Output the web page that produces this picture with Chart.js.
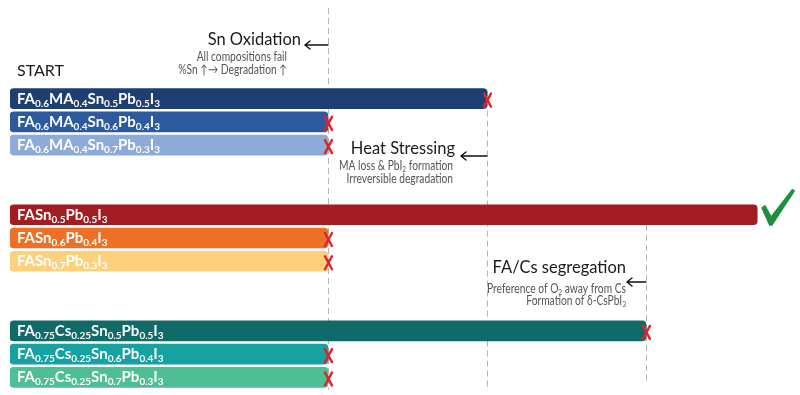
<!DOCTYPE html>
<html><head><meta charset="utf-8">
<script src="https://cdn.jsdelivr.net/npm/chart.js@4.4.0/dist/chart.umd.min.js"></script>
<style>html,body{margin:0;padding:0;background:#fff}#wrap{width:800px;height:395px;position:relative}</style>
</head><body><div id="wrap"><canvas id="c"></canvas></div>
<script>
// ---- data ----
const compositions = ['FA0.6MA0.4Sn0.5Pb0.5I3','FA0.6MA0.4Sn0.6Pb0.4I3','FA0.6MA0.4Sn0.7Pb0.3I3',
  'FASn0.5Pb0.5I3','FASn0.6Pb0.4I3','FASn0.7Pb0.3I3',
  'FA0.75Cs0.25Sn0.5Pb0.5I3','FA0.75Cs0.25Sn0.6Pb0.4I3','FA0.75Cs0.25Sn0.7Pb0.3I3'];
const groupOf = [0,0,0,1,1,1,2,2,2];
const stageReached = [3,2,2,4.7,2,2,4,2,2];
const outcome = ['fail','fail','fail','pass','fail','fail','fail','fail','fail'];
const barColors = ['#1f3e72','#2c5a9d','#8eaad9','#a21c22','#ee7024','#fdd17c','#0f6a68','#15a2a0','#4ebf95'];
const stageBounds = [2,3,4];
const stageTitles = ['Sn Oxidation','Heat Stressing','FA/Cs segregation'];
const stageNotes = [['All compositions fail','%Sn \u2191\u2192 Degradation \u2191'],
  ['MA loss & PbI_2 formation','Irreversible degradation'],
  ['Preference of O_2 away from Cs','Formation of \u03b4-CsPbI_3']];
const startLabel = 'START';

// ---- rows (with spacer rows between groups) ----
const rows = [];
compositions.forEach((c,i)=>{ if(i>0 && groupOf[i]!==groupOf[i-1]) rows.push(null,null); rows.push(i); });
const labels = rows.map(r=> r===null ? '' : compositions[r]);
const values = rows.map(r=> r===null ? null : stageReached[r]);
const colors = rows.map(r=> r===null ? 'rgba(0,0,0,0)' : barColors[r]);

function drawRich(ctx, parts, x, y, mainFont, subFont, subDy, align, sx){
  sx = sx || 1;
  let w = 0;
  parts.forEach((p,i)=>{ ctx.font = (i%2) ? subFont : mainFont; w += ctx.measureText(p).width; });
  const tw = w*sx;
  const x0 = align==='right' ? x - tw : (align==='center' ? x - tw/2 : x);
  ctx.save();
  ctx.translate(x0, y); ctx.scale(sx,1);
  ctx.textAlign='left'; ctx.textBaseline='alphabetic';
  let cx = 0;
  parts.forEach((p,i)=>{
    ctx.font = (i%2) ? subFont : mainFont;
    ctx.fillText(p, cx, (i%2) ? subDy : 0);
    cx += ctx.measureText(p).width;
  });
  ctx.restore();
}

const overlay = {
  id:'overlay',
  beforeDatasetsDraw(chart){
    const ctx = chart.ctx, xs = chart.scales.x, ys = chart.scales.y;
    const tops = [8, ys.getPixelForValue(0)-8, ys.getPixelForValue(rows.indexOf(3))-10];
    const bots = [390, 391, 384];
    ctx.save();
    ctx.strokeStyle='#b3b3b3'; ctx.lineWidth=1; ctx.setLineDash([6,4]);
    stageBounds.forEach((v,i)=>{
      const px = Math.round(xs.getPixelForValue(v))+0.5;
      ctx.beginPath(); ctx.moveTo(px,tops[i]); ctx.lineTo(px,bots[i]); ctx.stroke();
    });
    ctx.restore();
  },
  afterDatasetsDraw(chart){
    const ctx = chart.ctx, xs = chart.scales.x;
    const meta = chart.getDatasetMeta(0);
    ctx.save();
    // bar labels
    ctx.fillStyle='#ffffff';
    rows.forEach((r,idx)=>{
      if(r===null) return;
      const bar = meta.data[idx];
      const parts = compositions[r].split(/(\d+(?:\.\d+)?)/);
      drawRich(ctx, parts, xs.getPixelForValue(0)+7, bar.y+5, 'bold 15px Lato', 'bold 10px Lato', 3, 'left');
    });
    // marks
    rows.forEach((r,idx)=>{
      if(r===null) return;
      const bar = meta.data[idx];
      const ex = bar.x, cy = bar.y;
      if(outcome[r]==='fail'){
        ctx.strokeStyle='#e2222a'; ctx.lineWidth=2.4; ctx.lineCap='round';
        ctx.beginPath();
        ctx.moveTo(ex-3, cy-5); ctx.lineTo(ex+4, cy+8);
        ctx.moveTo(ex+4, cy-5); ctx.lineTo(ex-3, cy+8);
        ctx.stroke();
      } else {
        ctx.fillStyle='#1f8f3f';
        ctx.beginPath();
        ctx.moveTo(ex+4, cy-7);
        ctx.lineTo(ex+8, cy-10);
        ctx.lineTo(ex+14, cy+1);
        ctx.lineTo(ex+35, cy-26);
        ctx.lineTo(ex+38, cy-24);
        ctx.lineTo(ex+15, cy+11);
        ctx.lineTo(ex+12, cy+11);
        ctx.closePath(); ctx.fill();
      }
    });
    // START
    ctx.fillStyle='#1a1a1a';
    ctx.font='16px Lato'; ctx.textAlign='left';
    ctx.fillText(startLabel, 17, 76);
    // stage annotations
    const ann = [
      {tr:301, ty:45, ay:45, ax:305, nr:[287,287], ny:[61,74]},
      {tr:455, ty:154, ay:156, ax:461, nr:[453,453], ny:[170,183]},
      {tr:626, ty:273, ay:282, ax:627, nr:[626,626], ny:[293,305]}
    ];
    stageTitles.forEach((t,i)=>{
      const a = ann[i];
      ctx.fillStyle='#1a1a1a';
      drawRich(ctx,[t],a.tr,a.ty,'17px Lato','11px Lato',0,'right',0.97);
      const bx = Math.round(xs.getPixelForValue(stageBounds[i]));
      ctx.strokeStyle='#111'; ctx.lineWidth=1.4; ctx.setLineDash([]);
      ctx.beginPath(); ctx.moveTo(bx, a.ay); ctx.lineTo(a.ax, a.ay);
      ctx.moveTo(a.ax+5, a.ay-4); ctx.lineTo(a.ax, a.ay); ctx.lineTo(a.ax+5, a.ay+4);
      ctx.stroke();
      ctx.fillStyle='#555';
      stageNotes[i].forEach((n,j)=>{
        drawRich(ctx, n.split(/_(\d+)/), a.nr[j], a.ny[j], '12.5px Lato', '8px Lato', 2, 'right', 0.82);
      });
    });
    ctx.restore();
  }
};

new Chart(document.getElementById('c'), {
  type:'bar',
  data:{ labels, datasets:[{ data:values, backgroundColor:colors, borderRadius:4, borderSkipped:false, barThickness:20 }]},
  options:{
    indexAxis:'y', responsive:true, maintainAspectRatio:false, animation:false,
    layout:{ padding:{ left:10, right:11, top:87, bottom:6 } },
    plugins:{ legend:{display:false}, tooltip:{enabled:false} },
    scales:{ x:{ type:'linear', min:0, max:4.9, display:false }, y:{ display:false } }
  },
  plugins:[overlay]
});
</script></body></html>
